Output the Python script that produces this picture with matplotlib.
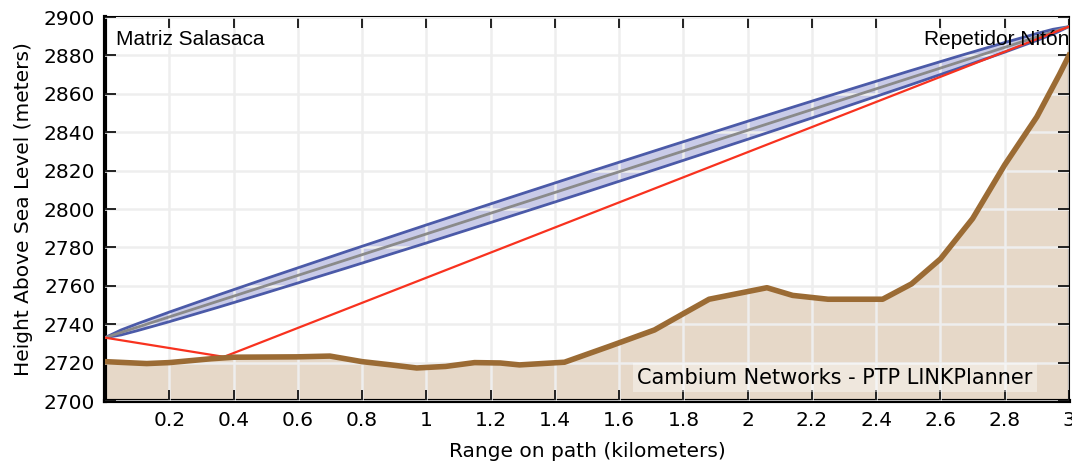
import numpy as np
import matplotlib
matplotlib.use("Agg")
import matplotlib.pyplot as plt
from matplotlib.ticker import FormatStrFormatter

# terrain profile (km, m)
terrain_km = [0, 0.13, 0.2, 0.33, 0.4, 0.6, 0.7, 0.8, 0.89, 0.97, 1.06, 1.15,
              1.23, 1.29, 1.43, 1.57, 1.71, 1.8, 1.88, 1.94, 2.06, 2.14, 2.25,
              2.42, 2.51, 2.6, 2.7, 2.8, 2.9, 2.97, 3.0]
terrain_m = [2720.5, 2719.5, 2720, 2722, 2722.8, 2723, 2723.4, 2720.5, 2718.8,
             2717.2, 2718, 2720, 2719.8, 2718.8, 2720.2, 2728.5, 2737, 2745.5,
             2753, 2755, 2759, 2755, 2753, 2753, 2761, 2774, 2795, 2823, 2848,
             2870, 2880]

# line of sight between the two antennas
los_km = [0, 3.0]
los_m = [2733, 2895]

# fresnel zone half width read along the path
fresnel_km = [0, 0.05, 0.1, 0.2, 0.35, 0.5, 0.75, 1.0, 1.25, 1.5, 1.75, 2.0,
              2.25, 2.5, 2.65, 2.8, 2.9, 2.95, 3.0]
fresnel_hw = [0, 1.3, 1.8, 2.5, 3.2, 3.7, 4.3, 4.7, 4.9, 5.0, 4.9, 4.7, 4.3,
              3.7, 3.2, 2.5, 1.8, 1.3, 0]

# reflected path
refl_km = [0, 0.37, 3.0]
refl_m = [2733, 2723, 2895]

site_a = "Matriz Salasaca"
site_b = "Repetidor Nitón"

fig = plt.figure(figsize=(10.72, 4.61), dpi=100)
ax = fig.add_axes([105/1072, 60/461, 964/1072, 384/461])

center = np.interp(fresnel_km, los_km, los_m)
upper = center + np.array(fresnel_hw)
lower = center - np.array(fresnel_hw)

# fills go under the grid, lines over it
ax.fill_between(terrain_km, 2700, terrain_m, color='#e6d8c8', zorder=1, lw=0)
ax.fill_between(fresnel_km, lower, upper, color='#c9cbe8', zorder=1.5, lw=0)
ax.set_axisbelow(False)
ax.grid(True, color='#eeeeee', lw=1.8)
ax.plot(fresnel_km, upper, color='#4b5aa8', lw=2, zorder=4)
ax.plot(fresnel_km, lower, color='#4b5aa8', lw=2, zorder=4)
ax.plot(los_km, los_m, color='#8a8a8a', lw=2, zorder=4)
ax.plot(refl_km, refl_m, color='#f8321f', lw=1.6, zorder=5)
ax.plot(terrain_km, terrain_m, color='#9b6b34', lw=4, zorder=6,
        solid_joinstyle='round')

ax.set_xlim(0, 3.0)
ax.set_ylim(2700, 2900)
ax.set_xticks(np.arange(0.2, 3.01, 0.2))
ax.set_yticks(np.arange(2700, 2901, 20))
ax.xaxis.set_major_formatter(FormatStrFormatter('%g'))
ax.tick_params(direction='in', length=8, width=1.2, labelsize=14.5,
               top=True, right=True, pad=7, colors='black')
for s in ['left', 'bottom']:
    ax.spines[s].set_linewidth(3)
for s in ['top', 'right']:
    ax.spines[s].set_linewidth(1.5)

ax.set_xlabel("Range on path (kilometers)", fontsize=14.5, labelpad=9)
ax.set_ylabel("Height Above Sea Level (meters)", fontsize=14.5, labelpad=8)

ax.text(0.011, 0.965, site_a, transform=ax.transAxes, fontsize=15,
        family='Liberation Sans', va='top', ha='left', zorder=7)
ax.text(1.0, 0.965, site_b, transform=ax.transAxes, fontsize=15,
        family='Liberation Sans', va='top', ha='right', zorder=7)
ax.text(0.962, 0.035, "Cambium Networks - PTP LINKPlanner", transform=ax.transAxes,
        fontsize=15, va='bottom', ha='right', zorder=7,
        bbox=dict(facecolor='white', alpha=0.4, edgecolor='none', pad=3))

fig.savefig("out.png", dpi=100)
